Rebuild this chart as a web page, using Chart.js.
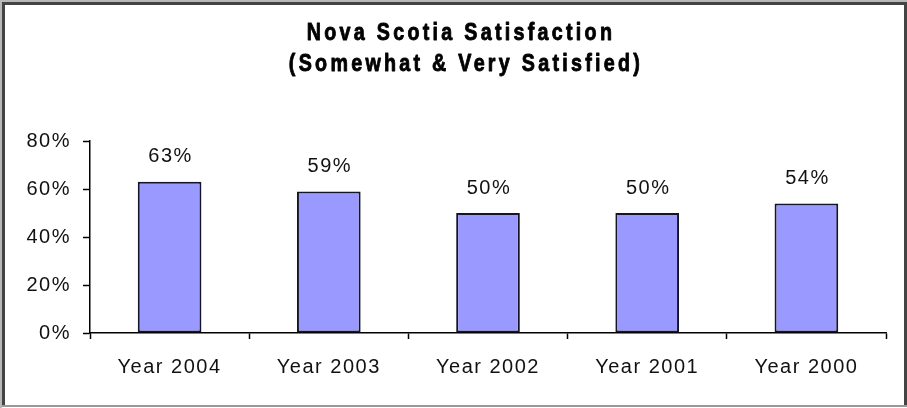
<!DOCTYPE html>
<html>
<head>
<meta charset="utf-8">
<script src="https://cdn.jsdelivr.net/npm/chart.js@4.4.1/dist/chart.umd.min.js"></script>
<style>
  html, body { margin: 0; padding: 0; background: #fff; }
  #wrap { width: 907px; height: 408px; position: relative; }
</style>
</head>
<body>
<div id="wrap"><canvas id="c" width="907" height="408"></canvas></div>
<script>
// Share of respondents somewhat or very satisfied, by survey year
const categories = ['Year 2004', 'Year 2003', 'Year 2002', 'Year 2001', 'Year 2000'];
const satisfied = [63, 59, 50, 50, 54];
const yTicks = [0, 20, 40, 60, 80];
const titleLines = ['Nova Scotia Satisfaction', '(Somewhat & Very Satisfied)'];

const BASE_FONT = '"Liberation Sans", Arial, sans-serif';

// Slightly spaced lettering for all chart text
const spacingPlugin = {
  id: 'spacing',
  beforeDraw(chart) { chart.ctx.letterSpacing = '1.5px'; }
};

// Percentage labels above each bar
const valueLabels = {
  id: 'valueLabels',
  afterDatasetsDraw(chart) {
    const ctx = chart.ctx;
    const meta = chart.getDatasetMeta(0);
    ctx.save();
    ctx.font = '20px ' + BASE_FONT;
    ctx.fillStyle = '#111';
    ctx.textAlign = 'center';
    ctx.textBaseline = 'middle';
    meta.data.forEach((bar, i) => {
      ctx.fillText(satisfied[i] + '%', bar.x + 1, bar.y - 25);
    });
    ctx.restore();
  }
};

// Two-line condensed bold heading and the outer frame
const headingAndFrame = {
  id: 'headingAndFrame',
  afterDraw(chart) {
    const ctx = chart.ctx;
    const sx = 0.82;
    ctx.save();
    ctx.scale(sx, 1);
    ctx.font = 'bold 24px ' + BASE_FONT;
    ctx.letterSpacing = '4px';
    ctx.fillStyle = '#000';
    ctx.strokeStyle = '#000';
    ctx.lineWidth = 0.9;
    ctx.lineJoin = 'round';
    ctx.textAlign = 'center';
    ctx.textBaseline = 'alphabetic';
    [[titleLines[0], 461, 40], [titleLines[1], 466, 71]].forEach(([t, x, y]) => {
      ctx.fillText(t, x / sx, y);
      ctx.strokeText(t, x / sx, y);
    });
    ctx.restore();

    ctx.save();
    ctx.fillStyle = '#b8b8b8';
    ctx.fillRect(0, 0, 907, 2);
    ctx.fillRect(0, 0, 2, 408);
    ctx.fillStyle = '#444';
    ctx.fillRect(2, 2, 903, 3);
    ctx.fillRect(2, 2, 3, 404);
    ctx.fillRect(904, 2, 3, 404);
    ctx.fillStyle = '#999';
    ctx.fillRect(2, 405, 905, 2);
    ctx.restore();
  }
};

new Chart(document.getElementById('c'), {
  type: 'bar',
  data: {
    labels: categories,
    datasets: [{
      data: satisfied,
      backgroundColor: '#9999ff',
      borderColor: '#15152a',
      borderWidth: 2,
      borderSkipped: false,
      barPercentage: 0.4,
      categoryPercentage: 1.0
    }]
  },
  options: {
    responsive: false,
    animation: false,
    layout: { padding: { top: 141, left: 0, right: 21, bottom: 0 } },
    plugins: {
      legend: { display: false },
      title: { display: false },
      tooltip: { enabled: false }
    },
    scales: {
      x: {
        offset: true,
        grid: {
          display: true, offset: true, drawOnChartArea: false, drawTicks: true,
          tickLength: 6, tickWidth: 1.5, tickColor: '#000'
        },
        border: { display: true, color: '#000', width: 1.5 },
        ticks: {
          color: '#111', padding: 16,
          font: { family: BASE_FONT, size: 20 },
          maxRotation: 0, autoSkip: false
        },
        afterFit(scale) { scale.height = 75; }
      },
      y: {
        min: 0, max: 80,
        afterBuildTicks(scale) { scale.ticks = yTicks.map(v => ({ value: v })); },
        grid: {
          display: true, drawOnChartArea: false, drawTicks: true,
          tickLength: 7, tickWidth: 1.5, tickColor: '#000'
        },
        border: { display: true, color: '#000', width: 1.5 },
        ticks: {
          color: '#111', padding: 12,
          font: { family: BASE_FONT, size: 20 },
          callback: v => v + '%'
        },
        afterFit(scale) { scale.width = 90; }
      }
    }
  },
  plugins: [spacingPlugin, valueLabels, headingAndFrame]
});
</script>
</body>
</html>
